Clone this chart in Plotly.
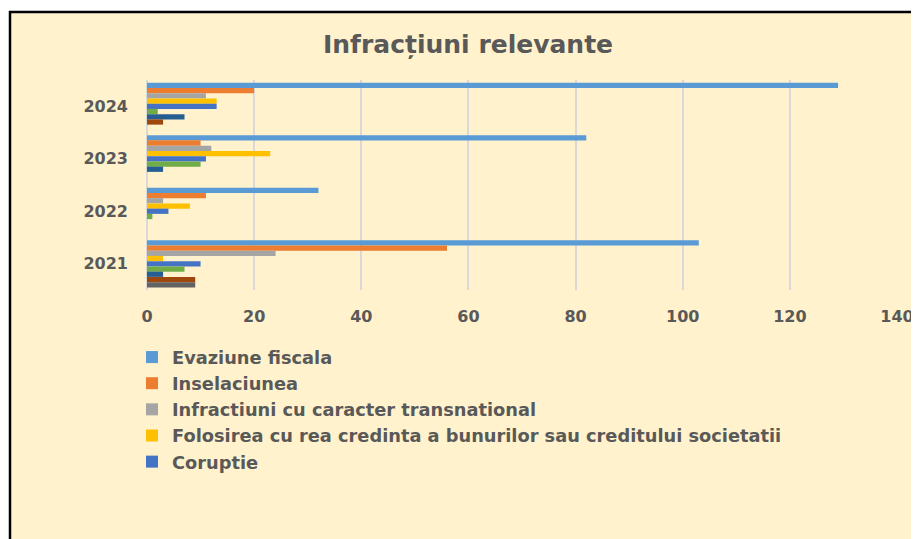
import plotly.graph_objects as go

# categories (years) and series values
years = ['2021', '2022', '2023', '2024']

evaziune = [103, 32, 82, 129]
inselaciune = [56, 11, 10, 20]
transnational = [24, 3, 12, 11]
folosirea = [3, 8, 23, 13]
coruptie = [10, 4, 11, 13]
serie6 = [7, 1, 10, 2]
serie7 = [3, 0, 3, 7]
serie8 = [9, 0, 0, 3]
serie9 = [9, 0, 0, 0]

series = [
    ('Evaziune fiscala', evaziune, '#5B9BD5', True),
    ('Inselaciunea', inselaciune, '#ED7D31', True),
    ('Infractiuni cu caracter transnational', transnational, '#A5A5A5', True),
    ('Folosirea cu rea credinta a bunurilor sau creditului societatii', folosirea, '#FFC000', True),
    ('Coruptie', coruptie, '#4472C4', True),
    ('Serie 6', serie6, '#70AD47', False),
    ('Serie 7', serie7, '#255E91', False),
    ('Serie 8', serie8, '#9E480E', False),
    ('Serie 9', serie9, '#636363', False),
]

# page has an 8px body margin, so the figure starts at (8, 8)
OFF = 8
W, H = 919 - OFF, 539 - OFF
L, R, T, B = 147 - OFF, 22, 80 - OFF, 249
pw, ph = W - L - R, H - T - B


def px_x(p):
    # page pixel -> paper x
    return (p - OFF - L) / pw


def px_y(p):
    # page pixel -> paper y
    return (H - B - (p - OFF)) / ph


fig = go.Figure()
for name, vals, col, show in series:
    fig.add_trace(go.Bar(y=years, x=vals, name=name, orientation='h',
                         marker=dict(color=col, line=dict(width=0)),
                         showlegend=show))

# light yellow panel with black frame (cut off at right/bottom like the original)
fig.add_shape(type='rect', xref='paper', yref='paper',
              x0=px_x(10), x1=px_x(940), y0=px_y(560), y1=px_y(12),
              fillcolor='#FFF2CC', line=dict(color='black', width=2.5),
              layer='below')

fig.add_annotation(text='Infracțiuni relevante', xref='paper', yref='paper',
                   x=px_x(468), y=px_y(45), xanchor='center', yanchor='middle',
                   showarrow=False,
                   font=dict(family='DejaVu Sans', size=25, color='#595959', weight='bold'))

fig.update_layout(
    width=W, height=H,
    margin=dict(l=L, r=R, t=T, b=B, autoexpand=False),
    paper_bgcolor='white',
    plot_bgcolor='rgba(0,0,0,0)',
    barmode='group',
    bargap=0.1,
    bargroupgap=0,
    xaxis=dict(
        range=[0, 140],
        dtick=20,
        showgrid=True,
        gridcolor='#D9D9D9',
        gridwidth=2,
        zeroline=True,
        zerolinecolor='#D9D9D9',
        zerolinewidth=2,
        showline=False,
        ticks='',
        ticklabelstandoff=15,
        tickfont=dict(family='DejaVu Sans', size=16, color='#595959', weight='bold'),
    ),
    yaxis=dict(
        categoryorder='array',
        categoryarray=['2024', '2023', '2022', '2021'],
        autorange='reversed',
        showgrid=False,
        zeroline=False,
        ticks='',
        ticklabelstandoff=18,
        tickfont=dict(family='DejaVu Sans', size=16, color='#595959', weight='bold'),
    ),
    legend=dict(
        x=px_x(132), y=px_y(339), xanchor='left', yanchor='top',
        bgcolor='rgba(0,0,0,0)',
        font=dict(family='DejaVu Sans', size=17.8, color='#595959', weight='bold'),
        itemwidth=30,
        tracegroupgap=0,
    ),
    showlegend=True,
)

fig.write_html('out.html')
